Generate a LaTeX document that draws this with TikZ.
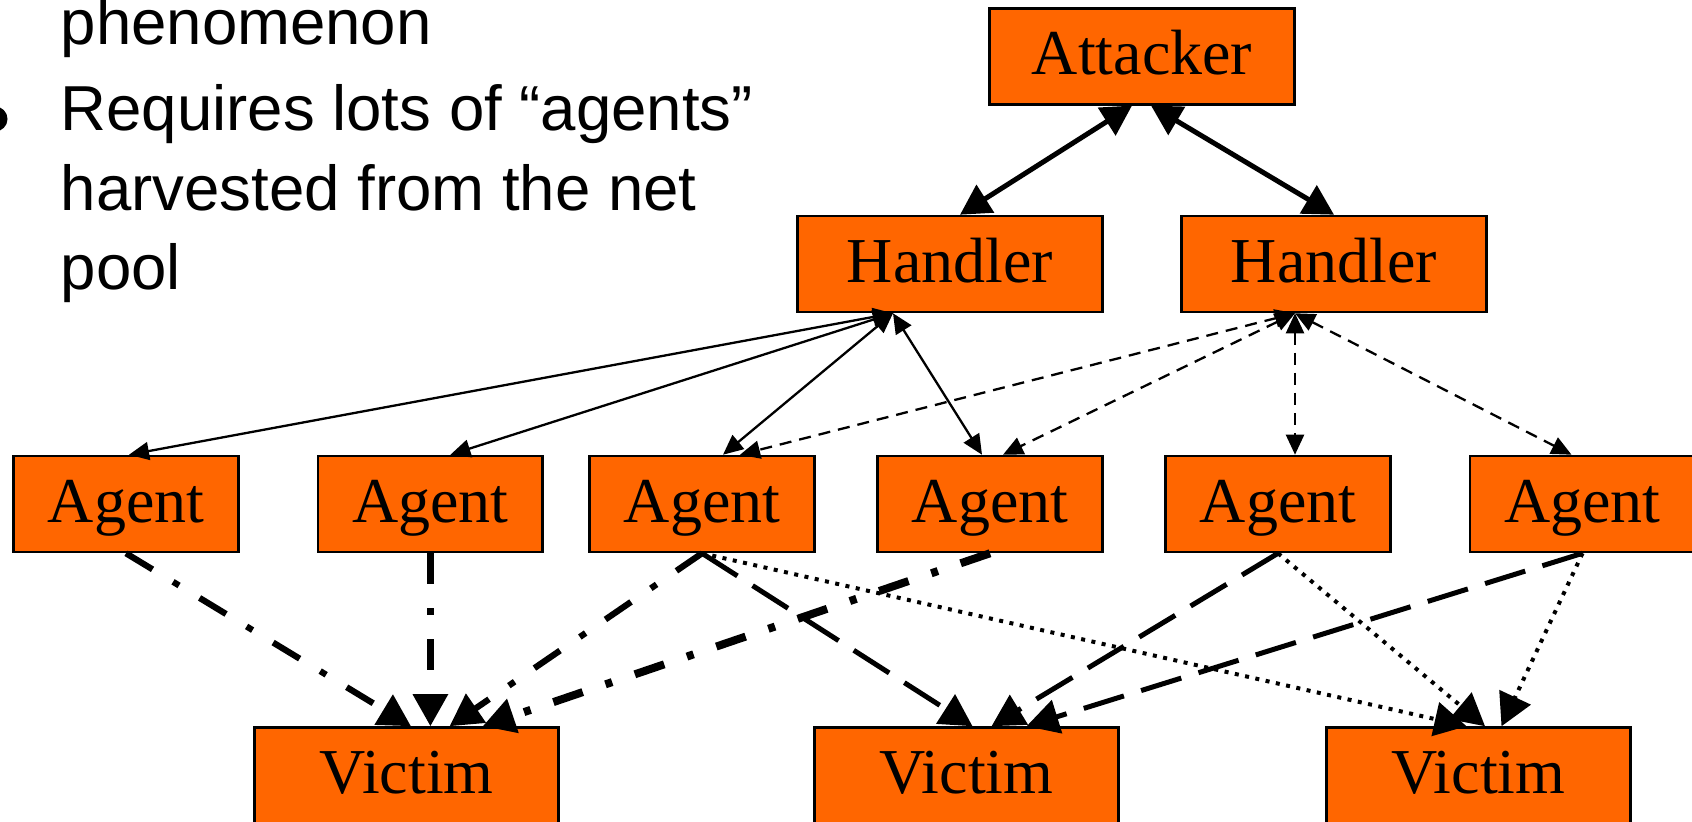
\documentclass[tikz,border=0pt]{standalone}
\usepackage{fontspec}
\setmainfont{Liberation Serif}
\newfontfamily\slidesans{Liberation Sans}
\usetikzlibrary{arrows.meta,calc}
\definecolor{boxorange}{HTML}{FF6600}

\tikzset{
  bigtip/.tip={Triangle[length=0.3cm,width=0.32cm]},
  smalltip/.tip={Triangle[length=0.2cm,width=0.18cm]},
  floodtip/.tip={Triangle[length=0.32cm,width=0.34cm]}
}

\begin{document}
\begin{tikzpicture}[x=0.01cm,y=-0.01cm,
  box/.style={draw=black,line width=0.025cm,fill=boxorange,inner sep=0pt,
    minimum height=0.96cm,text height=0.44cm,text depth=0.08cm,
    font=\fontsize{18.2pt}{20pt}\selectfont},
  wide/.style={box,minimum width=3.05cm},
  agentbox/.style={box,minimum width=2.245cm},
  victimbox/.style={box,minimum width=3.04cm},
  bodytext/.style={anchor=base west,inner sep=0pt,
    font=\slidesans\fontsize{18.07pt}{20pt}\selectfont},
  ctrl/.style={line width=0.05cm,bigtip-bigtip},
  cmd/.style={line width=0.023cm,smalltip-smalltip},
  cmddash/.style={cmd,dash pattern=on 0.12cm off 0.08cm},
  dashdot/.style={line width=0.062cm,-floodtip,
    dash pattern=on 0.31cm off 0.24cm on 0.07cm off 0.24cm},
  longdash/.style={line width=0.05cm,-floodtip,
    dash pattern=on 0.42cm off 0.18cm},
  dotline/.style={line width=0.04cm,-floodtip,
    dash pattern=on 0.04cm off 0.065cm}
]
\useasboundingbox (0,0) rectangle (1692,822);
\clip (0,0) rectangle (1692,822);

% bullet text
\fill (-5,119) circle[radius=0.125cm];
\node[bodytext] (t1) at (60,45) {phenomenon};
\node[bodytext] (t2) at (60,131) {Requires lots of “agents”};
\node[bodytext] (t3) at (60,211) {harvested from the net};
\node[bodytext] (t4) at (60,290) {pool};

% hierarchy
\node[wide] (att) at (1142,56.3) {Attacker};
\node[wide] (h1) at (950,264) {Handler};
\node[wide] (h2) at (1334,264) {Handler};

\node[agentbox] (a1) at (126,504) {Agent};
\node[agentbox] (a2) at (430.4,504) {Agent};
\node[agentbox] (a3) at (702,504) {Agent};
\node[agentbox] (a4) at (990,504) {Agent};
\node[agentbox] (a5) at (1278,504) {Agent};
\node[agentbox] (a6) at (1582.5,504) {Agent};

\node[victimbox] (v1) at (406.6,775.5) {Victim};
\node[victimbox] (v2) at (966.5,775.5) {Victim};
\node[victimbox] (v3) at (1478.5,775.5) {Victim};

% attacker to handlers
\draw[ctrl] ($(att.south)+(-10,0)$) -- ($(h1.north)+(10,0)$);
\draw[ctrl] ($(att.south)+(9,0)$) -- (h2.north);

% handlers to agents
\coordinate (h1p) at ($(h1.south)+(-57,0)$);
\coordinate (h2p) at ($(h2.south)+(-39,0)$);
\draw[cmd] (h1p) -- ($(a1.north)+(3,0)$);
\draw[cmd] (h1p) -- ($(a2.north)+(20,0)$);
\draw[cmd] (h1p) -- ($(a3.north)+(21,0)$);
\draw[cmd] (h1p) -- ($(a4.north)+(-8,0)$);
\draw[cmddash] (h2p) -- ($(a3.north)+(38,0)$);
\draw[cmddash] (h2p) -- ($(a4.north)+(13,0)$);
\draw[cmddash] (h2p) -- (h2p |- a5.north);
\draw[cmddash] (h2p) -- ($(a6.north)+(-11,0)$);

% agents to victims
\draw[dashdot] (a1.south) -- ($(v1.north)+(4.4,0)$);
\draw[dashdot] (a2.south) -- (a2.south |- v1.north);
\draw[dashdot] (a3.south) -- ($(v1.north)+(43,0)$);
\draw[dashdot,line width=0.08cm] (a4.south) -- ($(v1.north)+(76,0)$);
\draw[longdash] (a3.south) -- ($(v2.north)+(6,0)$);
\draw[longdash] (a5.south) -- ($(v2.north)+(25,0)$);
\draw[longdash] (a6.south) -- ($(v2.north)+(60,0)$);
\draw[dotline] (a3.south) -- ($(v3.north)+(-12,0)$);
\draw[dotline] (a5.south) -- ($(v3.north)+(6.5,0)$);
\draw[dotline] (a6.south) -- ($(v3.north)+(23,0)$);
\end{tikzpicture}
\end{document}
